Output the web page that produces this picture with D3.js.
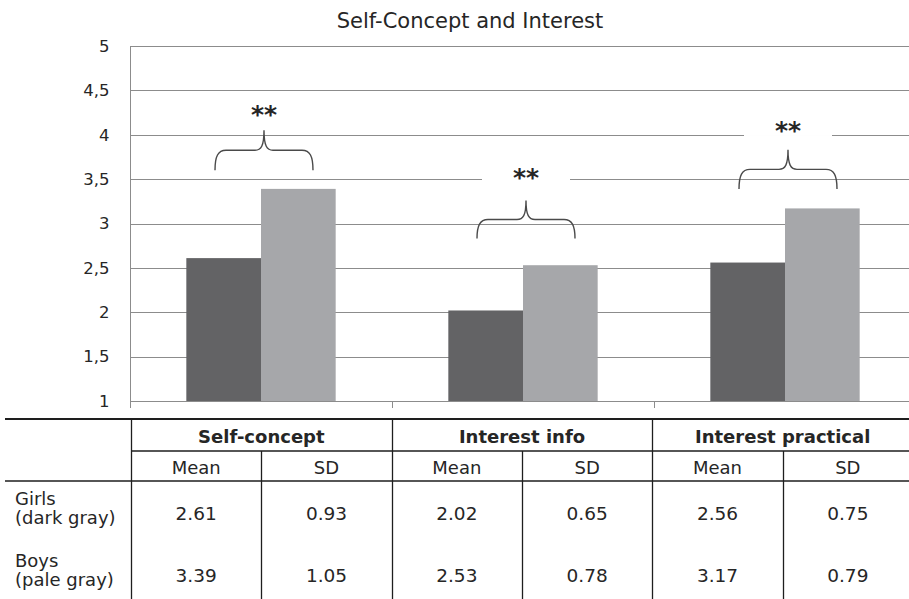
<!DOCTYPE html>
<html>
<head>
<meta charset="utf-8">
<script src="https://cdn.jsdelivr.net/npm/d3@7"></script>
<style>
  body { margin: 0; background: #fff; }
  text { font-family: 'DejaVu Sans', sans-serif; fill: #262626; }
</style>
</head>
<body>
<div id="box-div"></div>
<script>
// chart data
const categories = ['Self-concept', 'Interest info', 'Interest practical']
const groups = ['Girls', 'Boys']
const groupNotes = ['(dark gray)', '(pale gray)']
const girlsMean = [2.61, 2.02, 2.56]
const girlsSD = [0.93, 0.65, 0.75]
const boysMean = [3.39, 2.53, 3.17]
const boysSD = [1.05, 0.78, 0.79]
const yTicks = [1, 1.5, 2, 2.5, 3, 3.5, 4, 4.5, 5]
const statCols = ['Mean', 'SD']
// significance marks: brace tip, brace foot, star centre (in score units)
const braceTop = [4.05, 3.26, 3.83]
const braceFoot = [3.60, 2.83, 3.39]
const starLevel = [4.29, 3.58, 4.11]

const dms = {
    width: 909,
    height: 599,
    plot: { left: 130, right: 916, top: 46, bottom: 401 },
    table: { left: 5, labelRight: 131, right: 913, top: 419 }
}

const colors = { Girls: '#636365', Boys: '#a6a7aa' }

const box = d3.select('#box-div').append('svg')
    .attr('width', dms.width)
    .attr('height', dms.height)

const yScale = d3.scaleLinear()
    .domain([1, 5])
    .range([dms.plot.bottom, dms.plot.top])

const xScale = d3.scaleBand()
    .domain(categories)
    .range([dms.plot.left, dms.plot.right])
    .paddingInner(0.43)
    .paddingOuter(0.215)

const subScale = d3.scaleBand()
    .domain(groups)
    .range([0, xScale.bandwidth()])

const step = xScale.step()
const bandStart = d => xScale(d) - step * 0.215

// title
box.append('text')
    .attr('x', 470)
    .attr('y', 28)
    .attr('text-anchor', 'middle')
    .style('font-size', '21px')
    .text('Self-Concept and Interest')

// grid
const grid = box.append('g').attr('id', 'grid')
grid.selectAll('line')
    .data(yTicks)
    .join('line')
    .attr('x1', dms.plot.left)
    .attr('x2', dms.plot.right)
    .attr('y1', d => Math.round(yScale(d)) + 0.5)
    .attr('y2', d => Math.round(yScale(d)) + 0.5)
    .attr('stroke', '#8c8c8c')
    .attr('stroke-width', 1)

// y axis
const yAxis = box.append('g')
    .attr('transform', `translate(${dms.plot.left + 0.5},0)`)
    .call(d3.axisLeft(yScale)
        .tickValues(yTicks)
        .tickSize(0)
        .tickPadding(21)
        .tickFormat(d => String(d).replace('.', ',')))
yAxis.select('.domain')
    .attr('stroke', '#8c8c8c')
    .attr('d', `M0,${dms.plot.top}V${dms.plot.bottom + 7}`)
yAxis.selectAll('text')
    .style('font-size', '16.5px')
    .style('font-family', "'DejaVu Sans', sans-serif")
    .attr('fill', '#3a3a3a')

// category ticks on the base line
box.append('g')
    .selectAll('line')
    .data(categories)
    .join('line')
    .attr('x1', d => Math.round(bandStart(d)) + 0.5)
    .attr('x2', d => Math.round(bandStart(d)) + 0.5)
    .attr('y1', dms.plot.bottom)
    .attr('y2', dms.plot.bottom + 7)
    .attr('stroke', '#8c8c8c')

// bars
const barData = categories.flatMap((c, i) => [
    { cat: c, group: 'Girls', value: girlsMean[i] },
    { cat: c, group: 'Boys', value: boysMean[i] }
])

box.append('g')
    .attr('id', 'bars')
    .selectAll('rect')
    .data(barData)
    .join('rect')
    .attr('x', d => xScale(d.cat) + subScale(d.group))
    .attr('y', d => yScale(d.value))
    .attr('width', subScale.bandwidth())
    .attr('height', d => yScale(1) - yScale(d.value))
    .attr('fill', d => colors[d.group])

// significance braces
const sig = box.append('g').attr('id', 'sig')
categories.forEach((c, i) => {
    const cx = xScale(c) + xScale.bandwidth() / 2 + 3
    const top = yScale(braceTop[i])
    const foot = yScale(braceFoot[i])
    const mid = (top + foot) / 2
    const w = 49
    const path = d3.path()
    path.moveTo(cx - w, foot)
    path.bezierCurveTo(cx - w, mid + 6, cx - w + 3, mid, cx - w + 11, mid)
    path.lineTo(cx - 9, mid)
    path.bezierCurveTo(cx - 3, mid, cx, mid - 4, cx, top)
    path.bezierCurveTo(cx, mid - 4, cx + 3, mid, cx + 9, mid)
    path.lineTo(cx + w - 11, mid)
    path.bezierCurveTo(cx + w - 3, mid, cx + w, mid + 6, cx + w, foot)
    sig.append('path')
        .attr('d', path.toString())
        .attr('fill', 'none')
        .attr('stroke', '#4a4a4a')
        .attr('stroke-width', 1.4)

    const sy = yScale(starLevel[i])
    sig.append('rect')
        .attr('x', cx - 44)
        .attr('y', sy - 11)
        .attr('width', 88)
        .attr('height', 22)
        .attr('fill', '#fff')
    sig.append('text')
        .attr('x', cx)
        .attr('y', sy + 14)
        .attr('text-anchor', 'middle')
        .style('font-size', '25px')
        .style('font-weight', 'bold')
        .text('**')
})

// table
const tbl = dms.table
const colScale = d3.scaleBand()
    .domain(d3.range(categories.length * statCols.length))
    .range([tbl.labelRight, tbl.right])
const headRow1 = tbl.top
const headRow2 = tbl.top + 32
const bodyTop = tbl.top + 62
const rowH = 62

const table = box.append('g').attr('id', 'table')
const rule = (x1, x2, y1, y2, w) => table.append('line')
    .attr('x1', x1).attr('x2', x2).attr('y1', y1).attr('y2', y2)
    .attr('stroke', '#1e1e1e')
    .attr('stroke-width', w || 1.3)

rule(tbl.left, dms.width, headRow1, headRow1, 2.2)
rule(tbl.labelRight, dms.width, headRow2, headRow2)
rule(tbl.left, dms.width, bodyTop, bodyTop)

colScale.domain().forEach(j => {
    const x = Math.round(colScale(j)) + 0.5
    rule(x, x, j % 2 === 0 ? headRow1 : headRow2, dms.height)
})

categories.forEach((c, i) => {
    const x0 = colScale(i * 2)
    table.append('text')
        .attr('x', x0 + colScale.bandwidth())
        .attr('y', headRow1 + 24)
        .attr('text-anchor', 'middle')
        .style('font-size', '18px')
        .style('font-weight', 'bold')
        .text(c)
    statCols.forEach((s, k) => {
        table.append('text')
            .attr('x', colScale(i * 2 + k) + colScale.bandwidth() / 2)
            .attr('y', headRow2 + 23)
            .attr('text-anchor', 'middle')
            .style('font-size', '18px')
            .text(s)
    })
})

const rows = [
    categories.flatMap((c, i) => [girlsMean[i], girlsSD[i]]),
    categories.flatMap((c, i) => [boysMean[i], boysSD[i]])
]

rows.forEach((vals, r) => {
    const y0 = bodyTop + r * rowH
    table.append('text')
        .attr('x', 15)
        .attr('y', y0 + 24)
        .style('font-size', '18px')
        .text(groups[r])
    table.append('text')
        .attr('x', 15)
        .attr('y', y0 + 43)
        .style('font-size', '18px')
        .text(groupNotes[r])
    table.selectAll(null)
        .data(vals)
        .join('text')
        .attr('x', (d, j) => colScale(j) + colScale.bandwidth() / 2)
        .attr('y', y0 + 39)
        .attr('text-anchor', 'middle')
        .style('font-size', '18.5px')
        .text(d => d.toFixed(2))
})
</script>
</body>
</html>
